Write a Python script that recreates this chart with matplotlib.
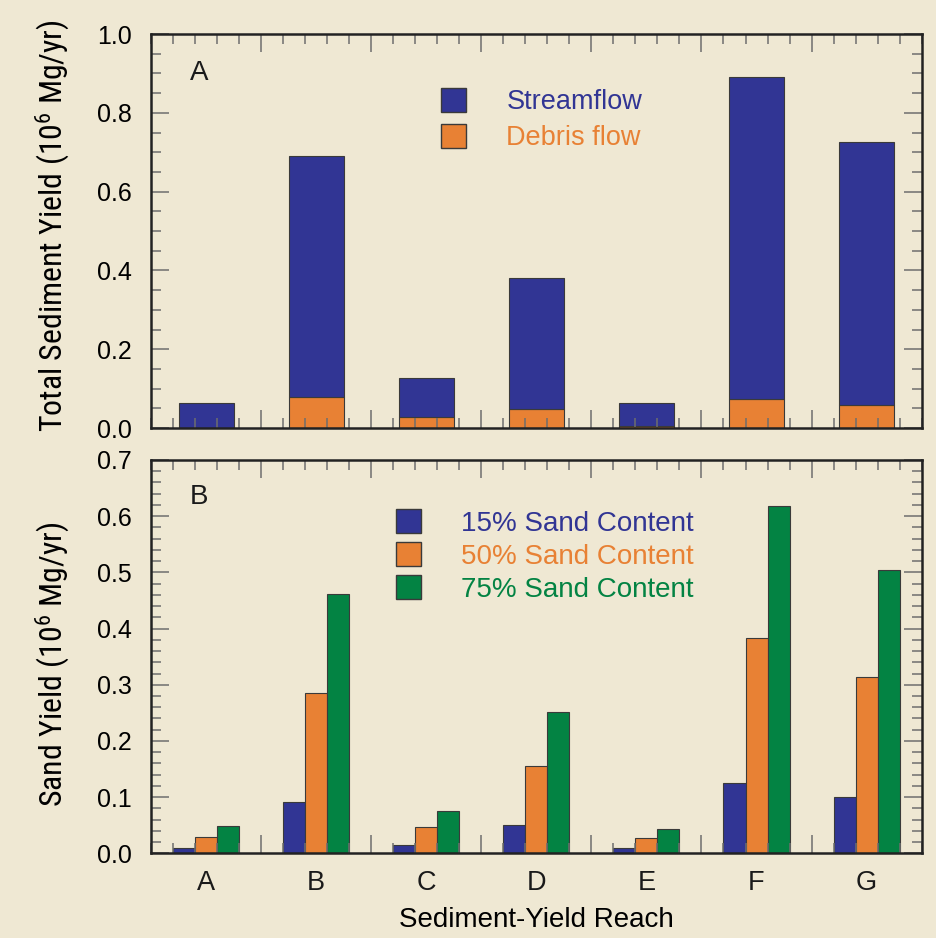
import numpy as np
import matplotlib
matplotlib.use('Agg')
import matplotlib.pyplot as plt
from matplotlib import font_manager
from matplotlib.ticker import MultipleLocator, FixedLocator
from matplotlib.patches import Patch

plt.rcParams['font.family'] = ['Liberation Sans', 'DejaVu Sans']

# y labels in the original use a condensed face; use one if there is one
installed = {f.name for f in font_manager.fontManager.ttflist}
narrow_name = 'Liberation Sans'
for name in ['Liberation Sans Narrow', 'Roboto Condensed', 'Open Sans Condensed',
             'DejaVu Sans Condensed', 'Noto Sans Condensed']:
    if name in installed:
        narrow_name = name
        break
ylab_font = [narrow_name, 'Liberation Sans']
plt.rcParams['mathtext.fontset'] = 'custom'
plt.rcParams['mathtext.rm'] = narrow_name
plt.rcParams['mathtext.it'] = narrow_name + ':italic'

reaches = ['A', 'B', 'C', 'D', 'E', 'F', 'G']
streamflow = [0.064, 0.611, 0.098, 0.333, 0.058, 0.819, 0.669]
debris = [0.0, 0.079, 0.029, 0.048, 0.005, 0.073, 0.058]

sand15 = [0.010, 0.092, 0.015, 0.050, 0.009, 0.126, 0.101]
sand50 = [0.029, 0.286, 0.047, 0.155, 0.027, 0.384, 0.314]
sand75 = [0.049, 0.461, 0.075, 0.251, 0.043, 0.618, 0.505]

bg = '#efe8d3'
blue = '#313594'
orange = '#e88134'
green = '#038343'
edge = '#3a3a3a'

x = np.arange(len(reaches))

fig = plt.figure(figsize=(9.36, 9.38), dpi=100, facecolor=bg)
ax1 = fig.add_axes([0.1613, 0.5437, 0.8234, 0.42])
ax2 = fig.add_axes([0.1613, 0.0903, 0.8234, 0.4193])


def style(ax, ymax, ymajor, yminor):
    ax.set_facecolor(bg)
    ax.set_xlim(-0.5, 6.5)
    ax.set_ylim(0, ymax)
    for s in ax.spines.values():
        s.set_linewidth(1.8)
        s.set_color('#222222')
    ax.xaxis.set_major_locator(FixedLocator(x[:-1] + 0.5))
    ax.xaxis.set_minor_locator(MultipleLocator(0.2, offset=0.1))
    ax.yaxis.set_major_locator(MultipleLocator(ymajor))
    ax.yaxis.set_minor_locator(MultipleLocator(yminor))
    ax.tick_params(which='both', direction='in', top=True, right=True,
                   color='#6e6e6e', width=1.1)
    ax.tick_params(which='major', length=13)
    ax.tick_params(which='minor', length=7)
    ax.tick_params(axis='x', labelbottom=False)
    ax.tick_params(axis='y', labelsize=18, pad=14)
    ax.yaxis.set_major_formatter(lambda v, p: '%.1f' % v)


# panel A
style(ax1, 1.0, 0.2, 0.05)
ax1.bar(x, debris, width=0.5, color=orange, edgecolor=edge, linewidth=0.8)
ax1.bar(x, streamflow, width=0.5, bottom=debris, color=blue,
        edgecolor=edge, linewidth=0.8)
ax1.set_ylabel('Total Sediment Yield (10$^6$ Mg/yr)', fontsize=20, family=ylab_font)
ax1.yaxis.set_label_coords(-0.103, 0.513)
ax1.text(0.05, 0.90, 'A', transform=ax1.transAxes, fontsize=20,
         va='center', ha='left', color='#1a1a1a')
leg1 = ax1.legend([Patch(fc=blue, ec=edge), Patch(fc=orange, ec=edge)],
                  ['Streamflow', 'Debris flow'], loc='upper left',
                  bbox_to_anchor=(0.376, 0.862), frameon=False, fontsize=19.5,
                  handlelength=0.92, handleheight=0.95, handletextpad=1.5,
                  labelspacing=0.33, borderpad=0, borderaxespad=0)
for t, c in zip(leg1.get_texts(), [blue, orange]):
    t.set_color(c)

# panel B
style(ax2, 0.7, 0.1, 0.02)
w = 0.2
ax2.bar(x - w, sand15, width=w, color=blue, edgecolor=edge, linewidth=0.8)
ax2.bar(x, sand50, width=w, color=orange, edgecolor=edge, linewidth=0.8)
ax2.bar(x + w, sand75, width=w, color=green, edgecolor=edge, linewidth=0.8)
ax2.set_ylabel('Sand Yield (10$^6$ Mg/yr)', fontsize=20, family=ylab_font)
ax2.yaxis.set_label_coords(-0.103, 0.481)
ax2.text(0.05, 0.906, 'B', transform=ax2.transAxes, fontsize=20,
         va='center', ha='left', color='#1a1a1a')
leg2 = ax2.legend([Patch(fc=blue, ec=edge), Patch(fc=orange, ec=edge),
                   Patch(fc=green, ec=edge)],
                  ['15% Sand Content', '50% Sand Content', '75% Sand Content'],
                  loc='upper left', bbox_to_anchor=(0.318, 0.875), frameon=False,
                  fontsize=20, handlelength=0.9, handleheight=0.95,
                  handletextpad=1.45, labelspacing=0.2, borderpad=0,
                  borderaxespad=0)
for t, c in zip(leg2.get_texts(), [blue, orange, green]):
    t.set_color(c)

sec = ax2.secondary_xaxis('bottom')
sec.set_xticks(x, reaches)
sec.tick_params(length=0, labelsize=19.5, pad=12, colors='#1a1a1a')
sec.spines['bottom'].set_visible(False)
sec.set_xlabel('Sediment-Yield Reach', fontsize=20, labelpad=8)

# fit the top y label to its length in the original; both labels same size
fig.canvas.draw()
lab = ax1.yaxis.label
size = min(23, lab.get_fontsize() * 412 / lab.get_window_extent().height)
ax1.yaxis.label.set_fontsize(size)
ax2.yaxis.label.set_fontsize(size)

fig.savefig('out.png', dpi=100, facecolor=bg)
